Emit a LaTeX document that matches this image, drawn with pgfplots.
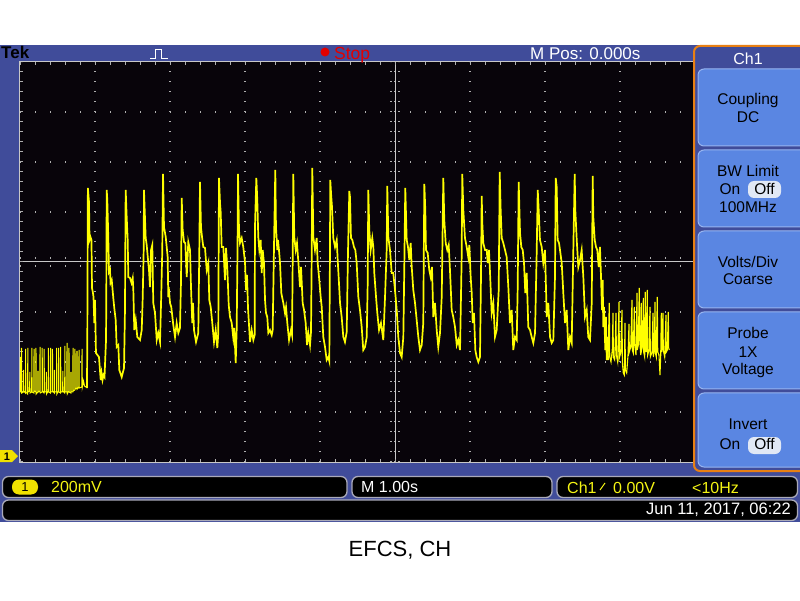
\documentclass[border=0pt]{standalone}
\usepackage{pgfplots}
\pgfplotsset{compat=1.18}
\usepackage{fontspec}
\setmainfont{Liberation Sans}

\definecolor{tekblue}{RGB}{64,76,154}
\definecolor{scr}{RGB}{8,4,10}
\definecolor{btn}{RGB}{90,134,226}
\definecolor{btnedge}{RGB}{150,180,240}
\definecolor{tekorange}{RGB}{232,128,20}
\definecolor{trace}{RGB}{255,255,0}
\definecolor{dotgray}{RGB}{175,175,175}
\definecolor{centregray}{RGB}{200,200,200}
\definecolor{boxedge}{RGB}{170,170,185}
\definecolor{pill}{RGB}{225,232,245}
\definecolor{chyellow}{RGB}{240,225,0}
\definecolor{txtyellow}{RGB}{245,245,20}
\definecolor{stopred}{RGB}{225,0,0}

\newcommand{\fs}[1]{\fontsize{#1}{#1}\selectfont}

\begin{document}
\begin{tikzpicture}
\fill[white] (0pt,0pt) rectangle (800pt,600pt);
% scope frame: pixel coordinates, y downwards
\begin{scope}[x=1pt,y=1pt,shift={(0pt,600pt)},yscale=-1]
  \fill[tekblue] (0,45) rectangle (800,522);
\end{scope}

\begin{axis}[
  at={(20pt,138pt)}, anchor=south west,
  scale only axis, width=750pt, height=400pt,
  xmin=0, xmax=10, ymin=-0.8, ymax=0.8,
  axis background/.style={fill=scr},
  axis line style={draw=centregray, line width=1pt},
  xtick={1,2,...,9}, ytick={-0.6,-0.4,-0.2,0.2,0.4,0.6},
  xticklabels={}, yticklabels={},
  tick style={draw=none},
  grid=major,
  x grid style={draw=dotgray, line width=1.2pt, dash pattern=on 1.2pt off 8.8pt},
  y grid style={draw=dotgray, line width=1.2pt, dash pattern=on 1.2pt off 13.8pt},
]
% graticule: centre lines, their tick rows and edge ticks
\draw[centregray, line width=1pt] (axis cs:5,-0.8) -- (axis cs:5,0.8);
\draw[centregray, line width=1pt] (axis cs:0,0) -- (axis cs:10,0);
\draw[dotgray, line width=1.2pt, dash pattern=on 1.2pt off 8.8pt] (axis cs:4.947,-0.8) -- (axis cs:4.947,0.8);
\draw[dotgray, line width=1.2pt, dash pattern=on 1.2pt off 8.8pt] (axis cs:5.053,-0.8) -- (axis cs:5.053,0.8);
\draw[dotgray, line width=1.2pt, dash pattern=on 1.2pt off 13.8pt] (axis cs:0,0.016) -- (axis cs:10,0.016);
\draw[dotgray, line width=1.2pt, dash pattern=on 1.2pt off 13.8pt] (axis cs:0,-0.016) -- (axis cs:10,-0.016);
\draw[dotgray, line width=3pt, dash pattern=on 1.2pt off 8.8pt] (axis cs:0.02,-0.8) -- (axis cs:0.02,0.8);
\draw[dotgray, line width=3pt, dash pattern=on 1.2pt off 13.8pt] (axis cs:0,0.794) -- (axis cs:10,0.794);
\draw[dotgray, line width=3pt, dash pattern=on 1.2pt off 13.8pt] (axis cs:0,-0.794) -- (axis cs:10,-0.794);

% idle noise before the burst
\addplot[trace, line width=1pt] table {
t v
0.000 -0.380
0.003 -0.520
0.018 -0.520
0.020 -0.344
0.023 -0.524
0.045 -0.520
0.047 -0.432
0.050 -0.516
0.073 -0.524
0.075 -0.348
0.078 -0.520
0.102 -0.528
0.104 -0.344
0.107 -0.520
0.129 -0.516
0.131 -0.440
0.134 -0.524
0.156 -0.520
0.158 -0.344
0.161 -0.520
0.185 -0.524
0.187 -0.348
0.190 -0.516
0.211 -0.520
0.213 -0.344
0.216 -0.528
0.238 -0.520
0.240 -0.436
0.243 -0.520
0.265 -0.516
0.267 -0.340
0.270 -0.524
0.294 -0.520
0.296 -0.344
0.299 -0.516
0.320 -0.524
0.322 -0.348
0.325 -0.520
0.349 -0.520
0.351 -0.440
0.354 -0.528
0.376 -0.516
0.378 -0.344
0.381 -0.520
0.405 -0.524
0.407 -0.344
0.410 -0.520
0.431 -0.520
0.433 -0.348
0.436 -0.516
0.458 -0.524
0.460 -0.432
0.463 -0.520
0.487 -0.520
0.489 -0.344
0.492 -0.528
0.514 -0.516
0.516 -0.344
0.519 -0.520
0.540 -0.524
0.542 -0.340
0.545 -0.520
0.569 -0.520
0.571 -0.436
0.574 -0.516
0.596 -0.524
0.598 -0.336
0.601 -0.520
0.625 -0.520
0.627 -0.324
0.630 -0.528
0.651 -0.516
0.653 -0.344
0.656 -0.520
0.678 -0.524
0.680 -0.440
0.683 -0.520
0.705 -0.520
0.707 -0.344
0.710 -0.516
0.731 -0.512
0.733 -0.348
0.736 -0.508
0.758 -0.504
0.760 -0.356
0.763 -0.508
0.785 -0.500
0.787 -0.352
0.790 -0.504
0.825 -0.500
0.827 -0.348
0.831 -0.500
0.847 -0.476
0.860 -0.496
0.880 -0.500
0.893 -0.504
};

% pulse burst
\addplot[trace, line width=1.7pt] table {
t v
0.893 -0.504
0.898 -0.264
0.905 0.296
0.920 0.240
0.927 0.088
0.940 0.100
0.953 0.088
0.960 -0.104
0.973 -0.124
0.980 -0.140
0.991 -0.244
1.000 -0.152
1.013 -0.364
1.033 -0.372
1.053 -0.380
1.076 -0.472
1.087 -0.444
1.100 -0.472
1.113 -0.452
1.127 -0.460
1.137 -0.384
1.147 -0.312
1.151 -0.112
1.156 0.288
1.164 0.248
1.177 0.100
1.187 -0.040
1.200 -0.032
1.207 -0.084
1.223 -0.072
1.244 -0.144
1.257 -0.184
1.276 -0.232
1.289 -0.340
1.311 -0.332
1.324 -0.432
1.356 -0.460
1.387 -0.424
1.400 -0.184
1.404 0.048
1.409 0.288
1.423 0.176
1.436 0.088
1.444 -0.060
1.467 -0.064
1.487 -0.084
1.503 -0.064
1.511 -0.112
1.524 -0.272
1.543 -0.232
1.564 -0.300
1.600 -0.312
1.623 -0.272
1.636 -0.144
1.649 0.048
1.653 0.288
1.676 0.096
1.689 0.068
1.711 -0.004
1.720 -0.032
1.733 -0.100
1.747 0.048
1.764 0.068
1.777 -0.164
1.800 -0.204
1.823 -0.312
1.844 -0.284
1.867 -0.320
1.884 -0.124
1.897 0.048
1.907 0.352
1.920 0.140
1.943 0.100
1.956 0.060
1.969 0.020
1.977 -0.140
1.983 -0.100
2.000 -0.164
2.017 -0.180
2.044 -0.252
2.067 -0.300
2.089 -0.244
2.111 -0.284
2.133 -0.264
2.147 -0.072
2.156 0.256
2.169 0.128
2.187 0.080
2.204 0.076
2.223 -0.060
2.244 0.080
2.267 0.048
2.280 -0.100
2.297 -0.244
2.307 -0.164
2.320 -0.272
2.347 -0.320
2.377 -0.284
2.391 0.048
2.400 0.320
2.413 0.140
2.427 0.100
2.444 0.060
2.467 0.056
2.489 -0.032
2.511 -0.004
2.524 -0.152
2.543 -0.180
2.564 -0.244
2.587 -0.320
2.609 -0.272
2.631 -0.344
2.644 -0.284
2.653 0.336
2.667 0.236
2.676 0.200
2.689 0.060
2.711 0.060
2.733 -0.072
2.747 0.056
2.764 -0.024
2.783 -0.172
2.800 -0.220
2.823 -0.244
2.844 -0.304
2.857 -0.264
2.876 -0.404
2.889 -0.272
2.900 0.048
2.907 0.352
2.920 0.128
2.933 0.076
2.956 0.096
2.977 0.060
3.000 0.000
3.013 -0.112
3.027 -0.052
3.040 -0.184
3.067 -0.320
3.089 -0.272
3.111 -0.312
3.129 -0.292
3.133 0.140
3.151 0.336
3.164 0.248
3.177 0.100
3.191 0.048
3.209 0.088
3.223 -0.044
3.236 0.048
3.253 -0.004
3.267 -0.152
3.280 -0.204
3.297 -0.220
3.311 -0.284
3.333 -0.272
3.356 -0.292
3.369 -0.272
3.387 0.068
3.404 0.368
3.413 0.140
3.431 0.048
3.440 0.088
3.453 0.048
3.467 -0.004
3.484 -0.124
3.511 -0.164
3.533 -0.204
3.547 -0.180
3.564 -0.244
3.587 -0.312
3.613 -0.272
3.627 -0.292
3.636 0.008
3.644 0.352
3.657 0.100
3.676 0.048
3.693 0.076
3.716 -0.020
3.733 -0.100
3.747 -0.020
3.769 -0.164
3.787 -0.192
3.809 -0.244
3.827 -0.332
3.844 -0.284
3.867 -0.332
3.880 -0.280
3.889 0.008
3.897 0.376
3.911 0.100
3.933 0.048
3.956 0.096
3.969 -0.004
3.987 -0.060
4.009 -0.140
4.023 -0.180
4.044 -0.300
4.067 -0.340
4.089 -0.392
4.111 -0.380
4.124 -0.396
4.133 0.048
4.137 0.328
4.147 0.276
4.160 0.220
4.177 0.096
4.200 0.060
4.223 0.088
4.236 0.008
4.253 -0.084
4.267 -0.164
4.289 -0.220
4.311 -0.300
4.333 -0.320
4.356 -0.280
4.373 0.036
4.391 0.284
4.400 0.260
4.413 0.096
4.431 0.088
4.453 0.060
4.471 0.048
4.489 -0.004
4.511 -0.140
4.533 -0.192
4.556 -0.260
4.577 -0.352
4.600 -0.340
4.623 -0.300
4.636 -0.084
4.644 0.288
4.657 0.128
4.676 0.048
4.697 0.096
4.711 0.060
4.724 -0.044
4.747 -0.140
4.764 -0.204
4.787 -0.272
4.813 -0.244
4.844 -0.312
4.867 -0.140
4.889 0.048
4.897 0.304
4.911 0.100
4.933 0.048
4.956 -0.044
4.977 -0.044
5.000 -0.112
5.023 -0.192
5.044 -0.300
5.067 -0.364
5.089 -0.380
5.111 -0.300
5.124 -0.020
5.137 0.296
5.156 0.088
5.173 0.060
5.191 0.008
5.209 0.076
5.223 -0.020
5.244 -0.112
5.267 -0.164
5.289 -0.232
5.311 -0.300
5.333 -0.352
5.356 -0.332
5.377 -0.244
5.391 0.312
5.404 0.208
5.413 0.048
5.436 0.036
5.457 -0.032
5.476 -0.060
5.493 -0.020
5.511 -0.220
5.533 -0.164
5.556 -0.272
5.577 -0.340
5.600 -0.284
5.623 -0.140
5.644 0.336
5.657 0.168
5.676 0.076
5.697 0.048
5.716 0.068
5.733 -0.032
5.756 -0.192
5.777 -0.220
5.800 -0.260
5.823 -0.332
5.844 -0.312
5.867 -0.352
5.889 0.020
5.897 0.352
5.911 0.208
5.933 0.096
5.956 0.060
5.977 0.020
5.991 0.068
6.009 -0.060
6.023 -0.124
6.036 -0.244
6.053 -0.204
6.071 -0.352
6.089 -0.380
6.111 -0.400
6.133 -0.380
6.147 -0.044
6.156 0.264
6.164 0.156
6.177 0.076
6.200 0.048
6.223 0.048
6.236 -0.004
6.253 0.048
6.267 -0.044
6.289 -0.204
6.311 -0.164
6.333 -0.300
6.356 -0.272
6.383 -0.112
6.396 0.360
6.409 0.208
6.423 0.096
6.444 0.076
6.467 0.048
6.489 0.020
6.511 -0.100
6.533 -0.244
6.556 -0.192
6.577 -0.352
6.600 -0.300
6.623 -0.312
6.636 -0.100
6.649 0.320
6.667 0.116
6.684 0.060
6.703 0.048
6.720 -0.004
6.737 -0.124
6.756 -0.044
6.777 -0.260
6.800 -0.272
6.823 -0.300
6.844 -0.324
6.867 -0.284
6.889 0.036
6.903 0.288
6.916 0.208
6.933 0.088
6.956 0.060
6.977 -0.004
7.000 0.048
7.023 -0.220
7.044 -0.164
7.067 -0.300
7.089 -0.324
7.111 -0.312
7.133 -0.060
7.143 0.336
7.156 0.300
7.169 0.088
7.187 0.076
7.200 0.048
7.223 -0.004
7.244 -0.124
7.267 -0.244
7.289 -0.192
7.311 -0.352
7.333 -0.300
7.356 -0.324
7.377 0.036
7.396 0.352
7.404 0.208
7.423 0.088
7.444 -0.020
7.467 0.008
7.489 0.048
7.511 -0.060
7.533 -0.220
7.556 -0.192
7.577 -0.300
7.600 -0.312
7.623 -0.164
7.636 0.344
7.644 0.180
7.663 0.088
7.680 0.060
7.697 0.048
7.716 -0.020
7.733 0.060
7.747 -0.060
7.760 -0.192
7.769 -0.072
7.777 -0.260
7.787 -0.180
7.804 -0.352
7.813 -0.220
7.823 -0.392
7.831 -0.300
7.840 -0.392
};

% noise after the burst
\addplot[trace, line width=1.1pt] table {
t v
7.840 -0.392
7.857 -0.164
7.863 -0.380
7.880 -0.400
7.897 -0.352
7.907 -0.204
7.911 -0.380
7.929 -0.392
7.947 -0.204
7.951 -0.372
7.969 -0.400
7.987 -0.160
7.991 -0.384
8.009 -0.364
8.027 -0.192
8.031 -0.400
8.044 -0.444
8.057 -0.452
8.067 -0.244
8.071 -0.432
8.089 -0.444
8.107 -0.372
8.120 -0.248
8.124 -0.360
8.143 -0.340
8.160 -0.152
8.164 -0.352
8.177 -0.364
8.191 -0.180
8.196 -0.332
8.213 -0.372
8.227 -0.124
8.231 -0.352
8.244 -0.332
8.257 -0.104
8.263 -0.312
8.276 -0.372
8.284 -0.164
8.289 -0.352
8.303 -0.332
8.311 -0.144
8.316 -0.360
8.329 -0.380
8.337 -0.120
8.343 -0.344
8.351 -0.360
8.364 -0.112
8.369 -0.372
8.387 -0.352
8.400 -0.180
8.404 -0.380
8.427 -0.360
8.440 -0.204
8.444 -0.380
8.457 -0.352
8.467 -0.160
8.471 -0.364
8.484 -0.380
8.497 -0.140
8.503 -0.360
8.520 -0.372
8.533 -0.452
8.543 -0.372
8.551 -0.204
8.556 -0.360
8.573 -0.204
8.577 -0.352
8.596 -0.380
8.613 -0.212
8.617 -0.360
8.631 -0.352
8.644 -0.200
8.649 -0.344
8.657 -0.352
};
\end{axis}

\begin{scope}[x=1pt,y=1pt,shift={(0pt,600pt)},yscale=-1]
  % title bar
  \node[anchor=base west, inner sep=0, font=\bfseries\fs{17}] at (1,59) {Tek};
  \draw[white, line width=0.9pt] (150,58) -- (155,58) -- (155,49) -- (161,49) -- (161,58) -- (168,58);
  \fill[stopred] (325,52) circle (4.5);
  \node[anchor=base west, inner sep=0, text=stopred, font=\fs{17.5}] at (334,60) {Stop};
  \node[anchor=base west, inner sep=0, text=white, font=\fs{17}] at (530,59.5) {M Pos: 0.000s};

  % channel marker
  \fill[chyellow] (-1,450) -- (12,450) -- (18,456) -- (12,462) -- (-1,462) -- cycle;
  \node[inner sep=0, font=\bfseries\fs{11}] at (7,456.5) {1};

  % side menu
  \draw[tekorange, line width=2pt, fill=tekblue, rounded corners=6pt] (694,46) rectangle (806,471);
  \node[anchor=base, inner sep=0, text=white, font=\fs{16}] at (748,65) {Ch1};
  \foreach \a/\b in {69/146,150/227,231/308,312/389,393/467}
    \draw[fill=btn, draw=btnedge, line width=1pt, rounded corners=6pt] (698,\a) rectangle (808,\b);
  \begin{scope}[every node/.style={anchor=base, inner sep=0, font=\fs{15.5}}]
    \node at (748,104.5) {Coupling};
    \node at (748,122.5) {DC};
    \node at (748,177) {BW Limit};
    \node at (730,195) {On};
    \node at (748,212.7) {100MHz};
    \node at (748,267.3) {Volts/Div};
    \node at (748,285) {Coarse};
    \node at (748,338.3) {Probe};
    \node at (748,357.3) {1X};
    \node at (748,375) {Voltage};
    \node at (748,429.3) {Invert};
    \node at (730,450) {On};
  \end{scope}
  \fill[pill, rounded corners=6pt] (748,181) rectangle (781,198);
  \node[anchor=base, inner sep=0, font=\fs{15.5}] at (764.5,195) {Off};
  \fill[pill, rounded corners=6pt] (748,437) rectangle (781,454);
  \node[anchor=base, inner sep=0, font=\fs{15.5}] at (764.5,450) {Off};

  % status boxes
  \begin{scope}[draw=boxedge, line width=1.3pt, rounded corners=6pt]
    \draw[fill=black] (2.5,476.5) rectangle (347,497.5);
    \draw[fill=black] (352,476.5) rectangle (552,497.5);
    \draw[fill=black] (557,476.5) rectangle (797.5,497.5);
    \draw[fill=black] (2.5,500) rectangle (797.5,520.5);
  \end{scope}
  \fill[chyellow, rounded corners=7pt] (12,479.5) rectangle (38,494.5);
  \node[inner sep=0, font=\fs{13}] at (25,487.5) {1};
  \begin{scope}[every node/.style={anchor=base west, inner sep=0, font=\fs{16}}]
    \node[text=txtyellow] at (51,492.5) {200mV};
    \node[text=white] at (361,492.5) {M 1.00s};
    \node[text=txtyellow] at (567,493) {Ch1};
    \node[text=txtyellow] at (613,493) {0.00V};
    \node[text=txtyellow] at (692,493) {<10Hz};
  \end{scope}
  \draw[txtyellow, line width=1pt] (600,490) -- (605,483);
  \node[anchor=base east, inner sep=0, text=white, font=\fs{16.5}] at (791,514) {Jun 11, 2017, 06:22};

  % caption
  \node[anchor=base, inner sep=0, font=\fs{22}] at (400,556) {EFCS, CH};
\end{scope}

\pgfresetboundingbox
\useasboundingbox (0pt,0pt) rectangle (800pt,600pt);
\end{tikzpicture}
\end{document}
